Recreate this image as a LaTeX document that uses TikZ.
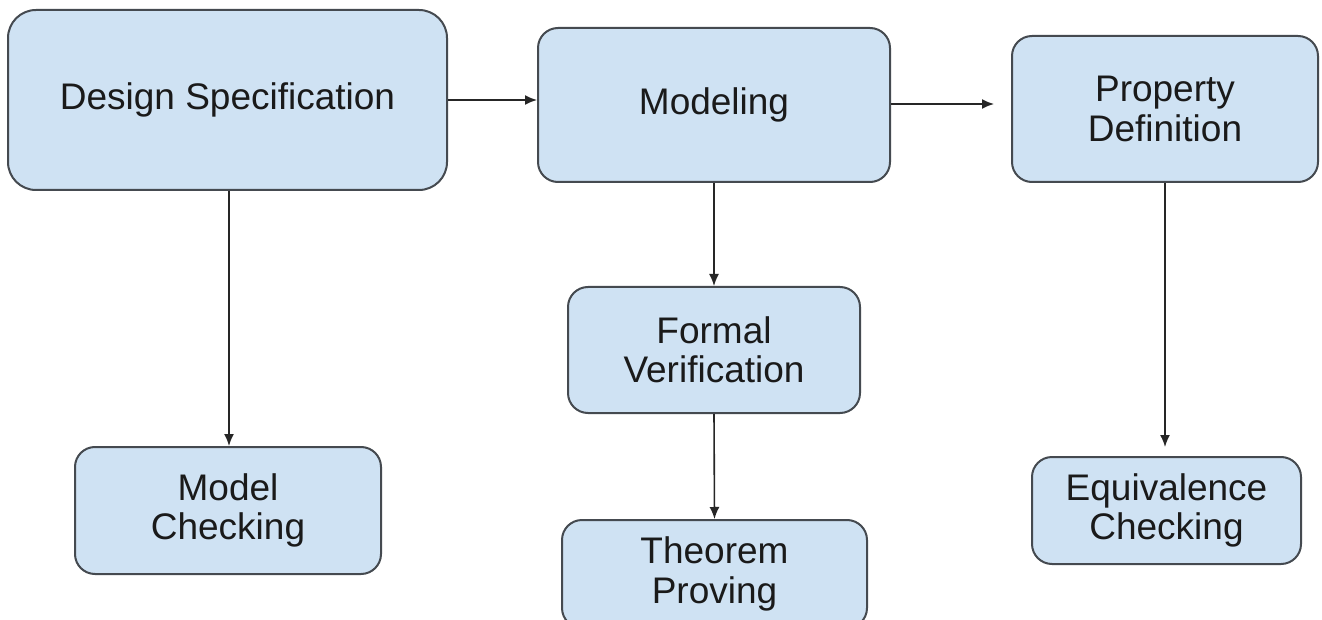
\documentclass[tikz,border=0pt]{standalone}
\usepackage{fontspec}
\setmainfont{Liberation Sans}
\usetikzlibrary{arrows.meta}
\definecolor{boxfill}{HTML}{CFE2F3}
\definecolor{boxline}{HTML}{454A50}
\definecolor{txt}{HTML}{1A1A1A}
\begin{document}
\begin{tikzpicture}[x=1pt,y=-1pt,
  box/.style={draw=boxline, fill=boxfill, line width=2pt, rounded corners=20pt,
    inner sep=0pt, align=center, text=txt,
    font=\fontsize{37}{39.5}\selectfont},
  conn/.style={draw=black!85, line width=1.6pt, -{Latex[length=12pt,width=10pt]}}]
\useasboundingbox (0,0) rectangle (1322,620);
\fill[white] (0,0) rectangle (1322,620);
\node[box, rounded corners=28pt, minimum width=439, minimum height=180] (ds) at (227.5,100) {Design Specification};
\node[box, minimum width=352, minimum height=154] (mod) at (714,105) {Modeling};
\node[box, minimum width=306, minimum height=146] (pd) at (1165,109) {Property\\Definition};
\node[box, minimum width=292, minimum height=126] (fv) at (714,350) {Formal\\Verification};
\node[box, minimum width=305, minimum height=108] (tp) at (714.5,574) {Theorem\\Proving};
\node[box, minimum width=306, minimum height=127] (mc) at (228,510.5) {Model\\Checking};
\node[box, minimum width=269, minimum height=107] (ec) at (1166.5,510.5) {Equivalence\\Checking};
\draw[conn] (ds.east |- 0,100) -- (mod.west |- 0,100);
\draw[conn, shorten >=17pt] (mod.east |- 0,104) -- (pd.west |- 0,104);
\draw[conn] (229,0 |- ds.south) -- (229,0 |- mc.north);
\draw[conn] (mod.south) -- (fv.north);
\draw[conn] (fv.south) -- (tp.north);
\draw[conn, shorten >=9pt] (pd.south) -- (pd.south |- ec.north);
\end{tikzpicture}
\end{document}
